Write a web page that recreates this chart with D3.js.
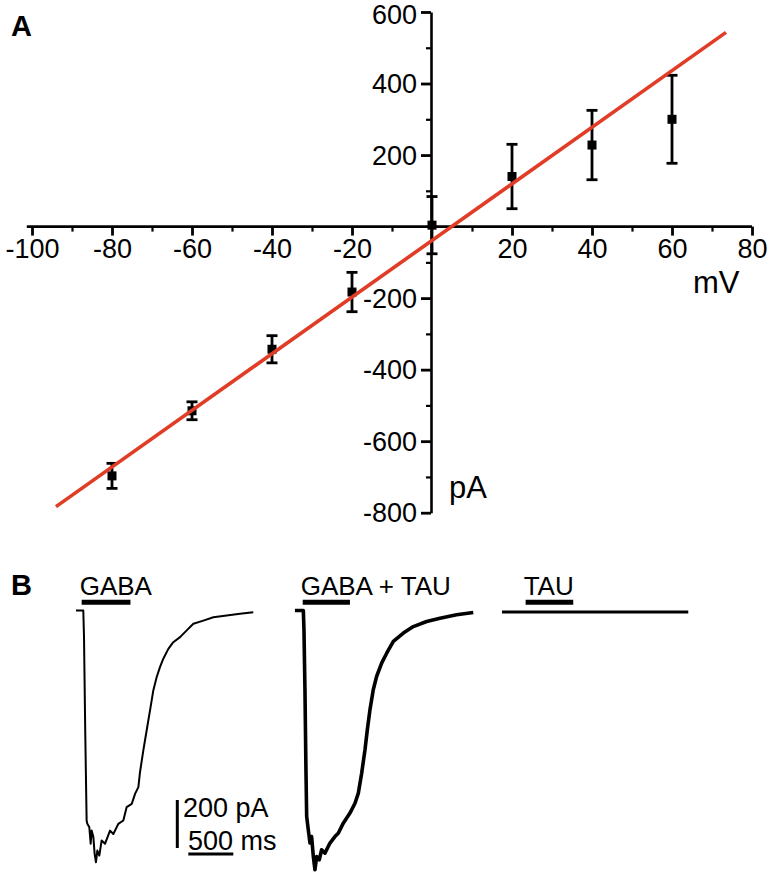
<!DOCTYPE html>
<html>
<head>
<meta charset="utf-8">
<script src="https://cdn.jsdelivr.net/npm/d3@7"></script>
<style>
    body { margin: 0; background: #fff; }
    svg { display: block; font-family: "Liberation Sans", Arial, Helvetica, sans-serif; }
</style>
</head>
<body>
<svg id="chart" width="774" height="875"></svg>
<script>
// Panel A: current-voltage relation (mean +/- SEM) and linear fit
const voltage = [-80, -60, -40, -20, 0, 20, 40, 60];
const current = [-697, -515, -343, -183, 4, 140, 228, 300];
const sem = [35, 25, 38, 55, 80, 90, 97, 123];
const fitVoltage = [-94, 73.5];
const fitCurrent = [-783, 543];
const xTicks = [-100, -80, -60, -40, -20, 20, 40, 60, 80];
const xMinor = [-90, -70, -50, -30, -10, 10, 30, 50, 70];
const yTicks = [600, 400, 200, -200, -400, -600, -800];
const yMinor = [500, 300, 100, -100, -300, -500, -700];

// Panel B: whole-cell current traces, ms from trace start vs pA
const gabaTime = [0, 81, 89, 103, 118, 126, 148, 163, 174, 193, 207, 222, 237, 259, 285, 322, 378, 415, 470, 526,
    563, 619, 656, 693, 711, 748, 785, 822, 859, 896, 933, 970, 1026, 1081, 1156, 1230, 1304, 1415, 1526, 1674, 1822, 1970];
const gabaCurrent = [0, 0, -111, -513, -875, -889, -903, -972, -917, -944, -1014, -1049, -1000, -1021, -958, -972, -917, -931, -889, -875,
    -819, -806, -764, -736, -674, -583, -500, -417, -333, -278, -236, -201, -160, -132, -111, -83, -55, -42, -28, -21, -14, -7];
const mixTime = [0, 93, 100, 111, 122, 130, 148, 167, 185, 204, 222, 241, 270, 296, 333, 389, 444, 481, 537, 611,
    667, 704, 741, 778, 804, 833, 870, 907, 963, 1019, 1093, 1204, 1315, 1463, 1611, 1796, 1981];
const mixCurrent = [0, 0, -80, -330, -664, -858, -914, -969, -942, -1025, -1080, -1025, -1039, -997, -1011, -969, -942, -928, -886, -844,
    -803, -761, -678, -580, -497, -414, -330, -275, -219, -178, -129, -94, -67, -46, -32, -18, -8];
const tauTime = [0, 2070];
const tauCurrent = [-6, -6];
const drugLabels = ['GABA', 'GABA + TAU', 'TAU'];
const barOn = [63, 86, 263];
const barOff = [605, 611, 792];
const scaleBarCurrent = 200;
const scaleBarTime = 500;

const chart = d3.select('#chart');

// plain hyphen for negatives, as in the original figure
function tickLabel(value) {
    return String(value);
}

function IVPlot() {
    const x = d3.scaleLinear()
        .domain([-100, 80])
        .range([32, 752]);

    const y = d3.scaleLinear()
        .domain([-800, 600])
        .range([512.7, 12]);

    const g = chart.append('g');

    // horizontal axis through 0 pA
    const xAxis = g.append('g')
        .attr('transform', `translate(0, ${y(0)})`);

    xAxis.append('line')
        .attr('x1', x(-101.3))
        .attr('x2', x(80))
        .attr('stroke', '#000')
        .attr('stroke-width', 2.6);

    xAxis.append('g')
        .call(d3.axisBottom(x).tickValues(xMinor).tickSize(5).tickFormat(''))
        .call(function(sel) { sel.select('.domain').remove(); })
        .selectAll('line')
        .attr('stroke-width', 2.2);

    xAxis.append('g')
        .call(d3.axisBottom(x).tickValues(xTicks).tickSize(9).tickPadding(3).tickFormat(tickLabel))
        .call(function(sel) { sel.select('.domain').remove(); })
        .call(function(sel) {
            sel.selectAll('line').attr('stroke-width', 2.8);
            sel.selectAll('text')
                .attr('font-size', 27)
                .attr('font-family', '"Liberation Sans", Arial, sans-serif')
                .attr('fill', '#000');
        });

    // vertical axis through 0 mV
    const yAxis = g.append('g')
        .attr('transform', `translate(${x(0) - 1}, 0)`);

    yAxis.append('g')
        .call(d3.axisLeft(y).tickValues(yMinor).tickSize(5).tickFormat(''))
        .call(function(sel) { sel.select('.domain').remove(); })
        .selectAll('line')
        .attr('stroke-width', 2.2);

    yAxis.append('g')
        .call(d3.axisLeft(y).tickValues(yTicks).tickSize(10).tickPadding(4).tickSizeOuter(0).tickFormat(tickLabel))
        .call(function(sel) {
            sel.select('.domain').attr('stroke-width', 2.6);
            sel.selectAll('line').attr('stroke-width', 2.8);
            sel.selectAll('text')
                .attr('font-size', 27)
                .attr('font-family', '"Liberation Sans", Arial, sans-serif')
                .attr('fill', '#000')
                .attr('dy', function(v) { return v === 600 ? '0.42em' : '0.34em'; });
        });

    g.append('text')
        .attr('x', 693)
        .attr('y', 293)
        .attr('font-size', 31)
        .text('mV');

    g.append('text')
        .attr('x', 449)
        .attr('y', 498)
        .attr('font-size', 31)
        .text('pA');

    // error bars
    const bars = g.append('g')
        .selectAll('g')
        .data(voltage)
        .enter()
        .append('g')
        .attr('stroke', '#000')
        .attr('stroke-width', 2.8);

    bars.append('line')
        .attr('x1', function(v) { return x(v); })
        .attr('x2', function(v) { return x(v); })
        .attr('y1', function(v, i) { return y(current[i] + sem[i]); })
        .attr('y2', function(v, i) { return y(current[i] - sem[i]); });

    [1, -1].forEach(function(sign) {
        bars.append('line')
            .attr('x1', function(v) { return x(v) - 5.5; })
            .attr('x2', function(v) { return x(v) + 5.5; })
            .attr('y1', function(v, i) { return y(current[i] + sign * sem[i]); })
            .attr('y2', function(v, i) { return y(current[i] + sign * sem[i]); });
    });

    // mean points
    g.append('g')
        .selectAll('rect')
        .data(voltage)
        .enter()
        .append('rect')
        .attr('x', function(v) { return x(v) - 4.5; })
        .attr('y', function(v, i) { return y(current[i]) - 4.5; })
        .attr('width', 9)
        .attr('height', 9)
        .attr('fill', '#000');

    // linear fit
    g.append('path')
        .datum(d3.zip(fitVoltage, fitCurrent))
        .attr('fill', 'none')
        .attr('stroke', '#e03c26')
        .attr('stroke-width', 3.6)
        .attr('d', d3.line()
            .x(function(d) { return x(d[0]); })
            .y(function(d) { return y(d[1]); }));

    g.append('text')
        .attr('x', 11)
        .attr('y', 36)
        .attr('font-size', 29)
        .attr('font-weight', 'bold')
        .text('A');
}

function TracePlot() {
    const traceStart = [0, 2433, 4733];
    const traceWidth = [2, 3.6, 3];
    const traces = [
        d3.zip(gabaTime, gabaCurrent),
        d3.zip(mixTime, mixCurrent),
        d3.zip(tauTime, tauCurrent)
    ];

    const t = d3.scaleLinear()
        .domain([0, 7000])
        .range([76, 706]);

    const y = d3.scaleLinear()
        .domain([-1100, 0])
        .range([610.5 + 1100 * 0.24, 610.5]);

    const g = chart.append('g');

    traces.forEach(function(trace, k) {
        g.append('path')
            .datum(trace)
            .attr('fill', 'none')
            .attr('stroke', '#000')
            .attr('stroke-width', traceWidth[k])
            .attr('stroke-linejoin', 'round')
            .attr('d', d3.line()
                .x(function(d) { return t(traceStart[k] + d[0]); })
                .y(function(d) { return y(d[1]); }));

        g.append('line')
            .attr('x1', t(traceStart[k] + barOn[k]))
            .attr('x2', t(traceStart[k] + barOff[k]))
            .attr('y1', 602.3)
            .attr('y2', 602.3)
            .attr('stroke', '#000')
            .attr('stroke-width', 5);

        g.append('text')
            .attr('x', t(traceStart[k] + barOn[k]) - 2)
            .attr('y', 595)
            .attr('font-size', 26)
            .text(drugLabels[k]);
    });

    // scale bars
    const sx = 177.3;
    const sy = 800;
    g.append('line')
        .attr('x1', sx)
        .attr('x2', sx)
        .attr('y1', sy)
        .attr('y2', sy + y(0) - y(scaleBarCurrent))
        .attr('stroke', '#000')
        .attr('stroke-width', 3);

    g.append('line')
        .attr('x1', 188.3)
        .attr('x2', 188.3 + t(scaleBarTime) - t(0))
        .attr('y1', 854)
        .attr('y2', 854)
        .attr('stroke', '#000')
        .attr('stroke-width', 3);

    g.append('text')
        .attr('x', 183)
        .attr('y', 817)
        .attr('font-size', 27)
        .text(scaleBarCurrent + ' pA');

    g.append('text')
        .attr('x', 188)
        .attr('y', 850)
        .attr('font-size', 27)
        .text(scaleBarTime + ' ms');

    g.append('text')
        .attr('x', 11)
        .attr('y', 595)
        .attr('font-size', 29)
        .attr('font-weight', 'bold')
        .text('B');
}

IVPlot();
TracePlot();
</script>
</body>
</html>
